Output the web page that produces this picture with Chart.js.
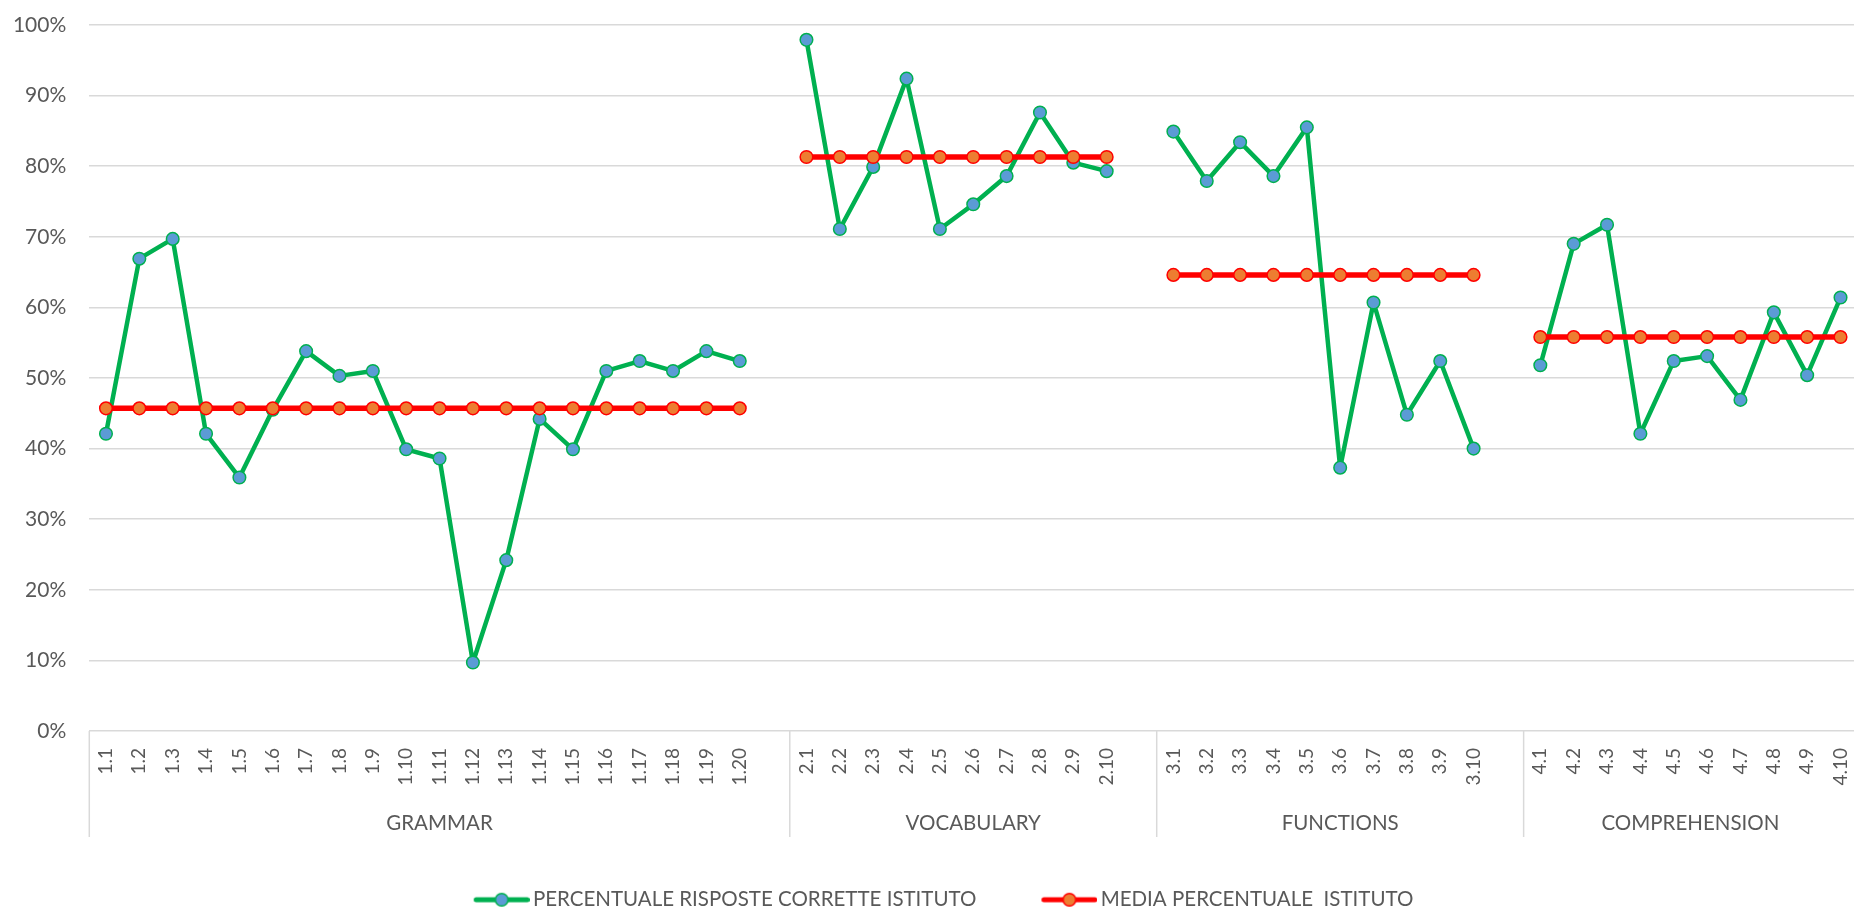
<!DOCTYPE html>
<html><head><meta charset="utf-8">
<script src="https://cdn.jsdelivr.net/npm/chart.js@4.4.1/dist/chart.umd.min.js"></script>
<style>
html,body{margin:0;padding:0;overflow:hidden;background:#fff;width:1854px;height:912px}
#wrap{position:absolute;left:0;top:0;width:1865px;height:920px}
</style></head><body>
<div id="wrap"><canvas id="c" width="1865" height="920"></canvas></div>
<script>
const groupNames = ["GRAMMAR", "VOCABULARY", "FUNCTIONS", "COMPREHENSION"];

const grammarItems = ["1.1","1.2","1.3","1.4","1.5","1.6","1.7","1.8","1.9","1.10","1.11","1.12","1.13","1.14","1.15","1.16","1.17","1.18","1.19","1.20"];
const vocabularyItems = ["2.1","2.2","2.3","2.4","2.5","2.6","2.7","2.8","2.9","2.10"];
const functionsItems = ["3.1","3.2","3.3","3.4","3.5","3.6","3.7","3.8","3.9","3.10"];
const comprehensionItems = ["4.1","4.2","4.3","4.4","4.5","4.6","4.7","4.8","4.9","4.10"];

const grammarCorrect = [42.1, 66.9, 69.7, 42.1, 35.9, 45.5, 53.8, 50.3, 51.0, 39.9, 38.6, 9.7, 24.2, 44.2, 39.9, 51.0, 52.4, 51.0, 53.8, 52.4];
const vocabularyCorrect = [97.9, 71.1, 79.9, 92.4, 71.1, 74.6, 78.6, 87.6, 80.5, 79.3];
const functionsCorrect = [84.9, 77.9, 83.4, 78.6, 85.5, 37.3, 60.7, 44.8, 52.4, 40.0];
const comprehensionCorrect = [51.8, 69.0, 71.7, 42.1, 52.4, 53.1, 46.9, 59.3, 50.4, 61.4];

const grammarMean = [45.7, 45.7, 45.7, 45.7, 45.7, 45.7, 45.7, 45.7, 45.7, 45.7, 45.7, 45.7, 45.7, 45.7, 45.7, 45.7, 45.7, 45.7, 45.7, 45.7];
const vocabularyMean = [81.3, 81.3, 81.3, 81.3, 81.3, 81.3, 81.3, 81.3, 81.3, 81.3];
const functionsMean = [64.6, 64.6, 64.6, 64.6, 64.6, 64.6, 64.6, 64.6, 64.6, 64.6];
const comprehensionMean = [55.8, 55.8, 55.8, 55.8, 55.8, 55.8, 55.8, 55.8, 55.8, 55.8];

const yTicks = [0, 10, 20, 30, 40, 50, 60, 70, 80, 90, 100];

const seriesNames = ["PERCENTUALE RISPOSTE CORRETTE ISTITUTO", "MEDIA PERCENTUALE  ISTITUTO"];

// build category axis: each group followed by an empty slot (except last)
const itemGroups = [grammarItems, vocabularyItems, functionsItems, comprehensionItems];
const correctGroups = [grammarCorrect, vocabularyCorrect, functionsCorrect, comprehensionCorrect];
const meanGroups = [grammarMean, vocabularyMean, functionsMean, comprehensionMean];
const labels = [], correct = [], mean = [], groupRanges = [];
itemGroups.forEach((items, g) => {
  const start = labels.length;
  items.forEach((lab, i) => { labels.push(lab); correct.push(correctGroups[g][i]); mean.push(meanGroups[g][i]); });
  if (g < itemGroups.length - 1) { labels.push(""); correct.push(null); mean.push(null); }
  groupRanges.push([start, labels.length - 1]);
});

const TEXT = '#595959';
const GRID = '#D9D9D9';
const FONT = 'Lato';
const LEG_W = 71;

function makeMarker(lineColor, fillColor, borderColor) {
  const c = document.createElement('canvas');
  const w = LEG_W + 14;
  c.width = w; c.height = 18;
  const g = c.getContext('2d');
  g.strokeStyle = lineColor; g.lineWidth = 5; g.lineCap = 'round';
  g.beginPath(); g.moveTo(w - 53.5, 9); g.lineTo(w - 2.5, 9); g.stroke();
  g.beginPath(); g.arc(w - 28, 9, 6.3, 0, Math.PI * 2);
  g.fillStyle = fillColor; g.fill();
  g.lineWidth = 1.5; g.strokeStyle = borderColor; g.stroke();
  return c;
}
const legendMarkers = [makeMarker('#00B050', '#5B9BD5', '#00B050'), makeMarker('#FF0000', '#ED7D31', '#FF0000')];

const groupPlugin = {
  id: 'groups',
  afterDraw(chart) {
    const ctx = chart.ctx, xs = chart.scales.x, area = chart.chartArea;
    const half = (xs.getPixelForTick(1) - xs.getPixelForTick(0)) / 2;
    ctx.save();
    ctx.strokeStyle = GRID; ctx.lineWidth = 1.5;
    ctx.fillStyle = TEXT; ctx.font = '20.5px ' + FONT;
    ctx.textAlign = 'center'; ctx.textBaseline = 'middle';
    groupRanges.forEach(([s, e], g) => {
      const left = xs.getPixelForTick(s) - half;
      const right = xs.getPixelForTick(e) + half;
      ctx.beginPath(); ctx.moveTo(left, area.bottom); ctx.lineTo(left, 837); ctx.stroke();
      if (g === groupRanges.length - 1) { ctx.beginPath(); ctx.moveTo(right, area.bottom); ctx.lineTo(right, 837); ctx.stroke(); }
      ctx.fillText(groupNames[g], (left + right) / 2, 823);
    });
    ctx.restore();
  }
};

new Chart(document.getElementById('c'), {
  type: 'line',
  data: {
    labels: labels,
    datasets: [
      { label: seriesNames[0], data: correct, borderColor: '#00B050', borderWidth: 4.5, borderJoinStyle: 'round',
        pointRadius: 6.3, pointBackgroundColor: '#5B9BD5', pointBorderColor: '#00B050', pointBorderWidth: 1.5,
        spanGaps: false, tension: 0, order: 1 },
      { label: seriesNames[1], data: mean, borderColor: '#FF0000', borderWidth: 5.5, borderJoinStyle: 'round',
        pointRadius: 6.3, pointBackgroundColor: '#ED7D31', pointBorderColor: '#FF0000', pointBorderWidth: 1.5,
        spanGaps: false, tension: 0, order: 0 }
    ]
  },
  options: {
    responsive: false, animation: false, devicePixelRatio: 1,
    layout: { padding: { top: 25, left: 0, right: 0, bottom: 0 } },
    scales: {
      x: {
        offset: true,
        grid: { display: false, drawTicks: false },
        border: { display: false },
        ticks: { autoSkip: false, maxRotation: 90, minRotation: 90, padding: 17, color: TEXT,
                 font: { family: FONT, size: 19 } },
        afterFit(s) { s.height = 115.5; s.paddingLeft = 0; s.paddingRight = 0; }
      },
      y: {
        min: 0, max: 100,
        afterBuildTicks(s) { s.ticks = yTicks.map(v => ({ value: v })); },
        ticks: { callback: v => v + '%', padding: 23, color: TEXT, font: { family: FONT, size: 21 } },
        grid: { color: GRID, lineWidth: 1.5, drawTicks: false },
        border: { display: false },
        afterFit(s) { s.width = 89.3; s.paddingTop = 0; s.paddingBottom = 0; }
      }
    },
    plugins: {
      tooltip: { enabled: false },
      legend: {
        position: 'bottom',
        labels: {
          usePointStyle: true, pointStyleWidth: LEG_W, padding: 43, color: TEXT,
          font: { family: FONT, size: 20.5 },
          sort: (a, b) => a.datasetIndex - b.datasetIndex,
          generateLabels(chart) {
            const items = Chart.defaults.plugins.legend.labels.generateLabels(chart);
            items.forEach(it => { it.pointStyle = legendMarkers[it.datasetIndex]; });
            return items;
          }
        }
      }
    }
  },
  plugins: [groupPlugin]
});
</script>
</body></html>
